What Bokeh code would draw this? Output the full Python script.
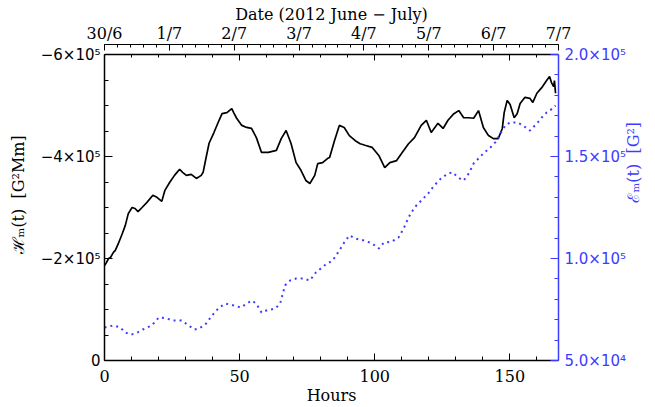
import numpy as np
from bokeh.plotting import figure
from bokeh.models import Range1d, LinearAxis, FixedTicker
from bokeh.embed import file_html
from bokeh.resources import INLINE

# ---------------- data ----------------
hours_h = [0.0, 0.7, 1.5, 2.2, 3.3, 4.0, 5.1, 6.6, 7.7, 8.8, 10.2, 11.3, 12.4, 13.9,
           15.7, 17.9, 19.4, 21.2, 22.3, 24.1, 25.9, 27.8, 28.9, 30.3, 32.1, 34.0,
           35.8, 36.5, 37.6, 38.7, 40.5, 42.4, 43.5, 45.3, 47.1, 47.8, 48.9, 50.8,
           52.6, 54.4, 56.2, 58.1, 60.6, 63.6, 65.4, 67.2, 69.0, 70.9, 72.7, 74.5,
           76.0, 77.8, 78.9, 80.7, 82.5, 83.3, 85.1, 86.9, 88.7, 90.6, 92.8, 94.6,
           96.4, 99.0, 101.5, 103.7, 105.6, 108.1, 109.9, 112.5, 114.7, 117.2, 119.1,
           120.9, 123.4, 125.3, 127.1, 129.3, 131.1, 132.9, 134.8, 136.6, 138.4,
           140.2, 142.1, 143.9, 145.7, 147.2, 147.9, 149.0, 150.1, 151.6, 152.7,
           153.8, 155.6, 157.4, 158.5, 160.0, 161.8, 163.6, 164.7, 165.4, 166.2,
           166.5, 166.9]
helicity = [-1.86e5, -1.92e5, -2.00e5, -2.02e5, -2.12e5, -2.16e5, -2.29e5, -2.49e5,
            -2.65e5, -2.88e5, -3.00e5, -2.98e5, -2.92e5, -3.00e5, -3.10e5, -3.24e5,
            -3.20e5, -3.12e5, -3.33e5, -3.49e5, -3.63e5, -3.75e5, -3.69e5, -3.63e5,
            -3.65e5, -3.57e5, -3.63e5, -3.69e5, -3.98e5, -4.26e5, -4.47e5, -4.71e5,
            -4.84e5, -4.86e5, -4.94e5, -4.86e5, -4.75e5, -4.61e5, -4.57e5, -4.55e5,
            -4.37e5, -4.08e5, -4.08e5, -4.12e5, -4.35e5, -4.51e5, -4.26e5, -3.88e5,
            -3.73e5, -3.53e5, -3.47e5, -3.63e5, -3.86e5, -3.88e5, -3.96e5, -3.98e5,
            -4.31e5, -4.61e5, -4.57e5, -4.41e5, -4.31e5, -4.25e5, -4.22e5, -4.18e5,
            -4.02e5, -3.78e5, -3.88e5, -3.92e5, -4.06e5, -4.25e5, -4.37e5, -4.61e5,
            -4.71e5, -4.47e5, -4.65e5, -4.55e5, -4.71e5, -4.84e5, -4.90e5, -4.76e5,
            -4.76e5, -4.75e5, -4.90e5, -4.57e5, -4.41e5, -4.35e5, -4.35e5, -4.55e5,
            -4.86e5, -5.10e5, -5.02e5, -4.76e5, -4.84e5, -5.04e5, -5.16e5, -5.14e5,
            -5.06e5, -5.24e5, -5.35e5, -5.49e5, -5.57e5, -5.45e5, -5.37e5, -5.49e5,
            -5.24e5]

hours_e = [0.0, 3.3, 5.8, 7.7, 9.9, 12.1, 14.2, 17.5, 20.1, 23.0, 25.2, 28.5, 30.7,
           33.2, 35.1, 37.6, 39.8, 42.4, 44.9, 47.8, 50.4, 52.2, 54.4, 56.2, 58.1,
           59.9, 63.2, 65.0, 66.8, 68.7, 70.9, 73.4, 76.0, 78.2, 81.4, 84.4, 86.9,
           88.7, 90.6, 92.8, 96.1, 99.0, 101.5, 103.4, 106.3, 108.8, 110.7, 112.5,
           114.7, 117.2, 119.8, 122.0, 124.5, 127.1, 128.9, 130.8, 132.9, 134.8,
           136.6, 138.4, 140.2, 142.8, 144.6, 146.5, 148.3, 150.1, 152.7, 154.9,
           157.4, 160.0, 161.8, 163.6, 165.8, 166.9]
energy = [6.62e4, 6.72e4, 6.62e4, 6.37e4, 6.27e4, 6.37e4, 6.52e4, 6.72e4, 7.11e4,
          7.06e4, 6.96e4, 6.96e4, 6.76e4, 6.52e4, 6.57e4, 6.81e4, 7.21e4, 7.60e4,
          7.79e4, 7.70e4, 7.60e4, 7.75e4, 7.94e4, 7.79e4, 7.35e4, 7.45e4, 7.55e4,
          7.79e4, 8.68e4, 8.92e4, 9.02e4, 9.02e4, 8.92e4, 9.31e4, 9.66e4, 9.90e4,
          1.039e5, 1.078e5, 1.113e5, 1.098e5, 1.088e5, 1.074e5, 1.049e5, 1.078e5,
          1.083e5, 1.103e5, 1.147e5, 1.201e5, 1.250e5, 1.284e5, 1.319e5, 1.358e5,
          1.392e5, 1.417e5, 1.422e5, 1.397e5, 1.382e5, 1.417e5, 1.466e5, 1.490e5,
          1.515e5, 1.544e5, 1.569e5, 1.613e5, 1.652e5, 1.667e5, 1.667e5, 1.652e5,
          1.627e5, 1.662e5, 1.691e5, 1.716e5, 1.735e5, 1.750e5]

x_tick_hours = [0, 50, 100, 150]
x_tick_labels = ["0", "50", "100", "150"]
date_tick_hours = [0, 24, 48, 72, 96, 120, 144, 168]
date_tick_labels = ["30/6", "1/7", "2/7", "3/7", "4/7", "5/7", "6/7", "7/7"]
h_tick_values = [0, -200000, -400000, -600000]
h_tick_labels = ["0", "\u22122\u00d710\u2075", "\u22124\u00d710\u2075", "\u22126\u00d710\u2075"]
e_tick_values = [50000, 100000, 150000, 200000]
e_tick_labels = ["5.0\u00d710\u2074", "1.0\u00d710\u2075", "1.5\u00d710\u2075", "2.0\u00d710\u2075"]

NB = "\u00a0"
x_title = "Hours"
date_title = "Date (2012 June \u2212 July)"
h_title = NB * 3 + "\u210b\u2098(t)" + NB * 2 + "[G\u00b2Mm]"
e_title = "\u2130\u2098(t)" + NB * 2 + "[G\u00b2]"

BLUE = "#3c3cff"
SERIF = "DejaVu Serif"
SANS = "DejaVu Sans"

# frame: 460 x 316 px; the axes span the lower 306 px, the top 10 px is the gap
# between the frame-top ticks and the date axis
H_MIN, H_MAX = 0, -600000
E_MIN, E_MAX = 50000, 200000
EXT = 316 / 306

p = figure(width=655, height=407, output_backend="svg", toolbar_location=None,
           x_range=Range1d(0, 168), y_range=Range1d(H_MIN, H_MAX * EXT),
           x_axis_location=None, y_axis_location=None)
p.extra_y_ranges = {"E": Range1d(E_MIN, E_MIN + (E_MAX - E_MIN) * EXT)}
p.min_border_left = 104
p.min_border_right = 91
p.min_border_top = 44
p.min_border_bottom = 47
p.outline_line_color = None
p.background_fill_color = "white"
p.border_fill_color = "white"
p.xgrid.visible = False
p.ygrid.visible = False


def style_axis(ax, color, major_in, minor_in):
    ax.axis_line_color = color
    ax.axis_line_width = 1.5
    ax.major_tick_line_color = color
    ax.minor_tick_line_color = color
    ax.major_tick_in = major_in
    ax.major_tick_out = 0
    ax.minor_tick_in = minor_in
    ax.minor_tick_out = 0
    ax.major_label_text_color = color
    ax.axis_label_text_color = color


# left axis (helicity)
left = LinearAxis(bounds=(H_MAX, H_MIN),
                  ticker=FixedTicker(ticks=h_tick_values,
                                     minor_ticks=[-i * 50000 for i in range(13)]),
                  axis_label=h_title)
style_axis(left, "black", 8, 4)
left.major_label_overrides = dict(zip(h_tick_values, h_tick_labels))
left.major_label_text_font = SANS
left.major_label_text_font_size = "15px"
left.major_label_standoff = 4
left.axis_label_text_font = SERIF
left.axis_label_text_font_style = "normal"
left.axis_label_text_font_size = "16px"
left.axis_label_standoff = 10
p.add_layout(left, "left")

# bottom axis (hours)
bottom = LinearAxis(ticker=FixedTicker(ticks=x_tick_hours,
                                       minor_ticks=list(range(0, 170, 10))),
                    axis_label=x_title)
style_axis(bottom, "black", 7, 4)
bottom.major_label_overrides = dict(zip(x_tick_hours, x_tick_labels))
bottom.major_label_text_font = SERIF
bottom.major_label_text_font_size = "16px"
bottom.major_label_standoff = 9
bottom.axis_label_text_font = SERIF
bottom.axis_label_text_font_style = "normal"
bottom.axis_label_text_font_size = "16px"
bottom.axis_label_standoff = 1
p.add_layout(bottom, "below")

# right axis (energy)
right = LinearAxis(y_range_name="E", bounds=(E_MIN, E_MAX),
                   ticker=FixedTicker(ticks=e_tick_values,
                                      minor_ticks=list(range(50000, 200001, 10000))),
                   axis_label=e_title)
style_axis(right, BLUE, 8, 4)
right.major_label_overrides = dict(zip(e_tick_values, e_tick_labels))
right.major_label_text_font = SANS
right.major_label_text_font_size = "15px"
right.major_label_standoff = 6
right.axis_label_text_font = SERIF
right.axis_label_text_font_style = "normal"
right.axis_label_text_font_size = "16px"
right.axis_label_standoff = 4
if "axis_label_orientation" in right.properties():
    right.axis_label_orientation = np.pi / 2
p.add_layout(right, "right")

# frame-top mirror of the hours axis (drawn at -6e5, no labels)
top_mirror = LinearAxis(fixed_location=H_MAX,
                        ticker=FixedTicker(ticks=x_tick_hours,
                                           minor_ticks=list(range(0, 170, 10))))
style_axis(top_mirror, "black", 6, 3)
top_mirror.major_label_text_color = None
p.add_layout(top_mirror, "above")

# date axis
date_axis = LinearAxis(ticker=FixedTicker(ticks=date_tick_hours,
                                          minor_ticks=[i * 4.8 for i in range(36)]),
                       axis_label=date_title)
style_axis(date_axis, "black", 6, 3)
date_axis.axis_line_width = 1.2
date_axis.major_label_overrides = dict(zip(date_tick_hours, date_tick_labels))
date_axis.major_label_text_font = SERIF
date_axis.major_label_text_font_size = "16px"
date_axis.major_label_standoff = 2
date_axis.axis_label_text_font = SERIF
date_axis.axis_label_text_font_style = "normal"
date_axis.axis_label_text_font_size = "16px"
date_axis.axis_label_standoff = -3
p.add_layout(date_axis, "above")

# data lines
p.line(x=hours_h, y=helicity, line_color="black", line_width=1.7)
p.line(x=hours_e, y=energy, y_range_name="E", line_color=BLUE, line_width=2,
       line_dash="2 4")

open("out.html", "w").write(file_html(p, INLINE))
